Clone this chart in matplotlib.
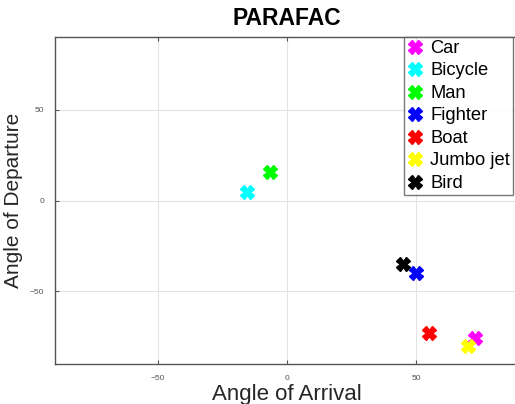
import matplotlib.pyplot as plt

# Estimated angle pairs (degrees) for each target
labels = ["Car", "Bicycle", "Man", "Fighter", "Boat", "Jumbo jet", "Bird"]
colors = ["#ff00ff", "#00ffff", "#00ff00", "#0000ff", "#ff0000", "#ffff00", "#000000"]
aoa = [73, -15.5, -6.5, 50, 55, 70, 45]
aod = [-75.5, 5, 16, -40, -73, -80, -35]

plt.rcParams['font.family'] = ['Liberation Sans', 'DejaVu Sans']

fig = plt.figure(figsize=(5.15, 4.04), dpi=100)
ax = fig.add_axes([0.107, 0.099, 0.901, 0.809])

for lab, c, x, y in zip(labels, colors, aoa, aod):
    ax.plot(x, y, linestyle='none', marker='X', markersize=10,
            color=c, markeredgecolor=c, label=lab)

ax.set_xlim(-90, 90)
ax.set_ylim(-90, 90)
ax.set_xticks([-50, 0, 50])
ax.set_yticks([-50, 0, 50])
ax.grid(True, color='#e3e3e3', linewidth=0.8)
ax.set_axisbelow(True)
ax.tick_params(direction='in', length=3, labelsize=6, colors='#555555',
               top=True, right=True, pad=8)
for s in ax.spines.values():
    s.set_color('#555555')
    s.set_linewidth(1.0)

ax.set_title("PARAFAC", fontsize=16.5, fontweight='bold', pad=9)
ax.set_xlabel("Angle of Arrival", fontsize=16, color='#262626', labelpad=1)
ax.set_ylabel("Angle of Departure", fontsize=15, color='#262626', labelpad=5)

leg = ax.legend(loc='upper right', bbox_to_anchor=(0.986, 1.0),
                fontsize=13.2, frameon=True, fancybox=False,
                edgecolor='#555555', borderpad=0.15, labelspacing=0.3,
                handletextpad=0.3, handlelength=1.0, borderaxespad=0.0)
leg.get_frame().set_linewidth(1.0)

fig.savefig("out.png", dpi=100)
